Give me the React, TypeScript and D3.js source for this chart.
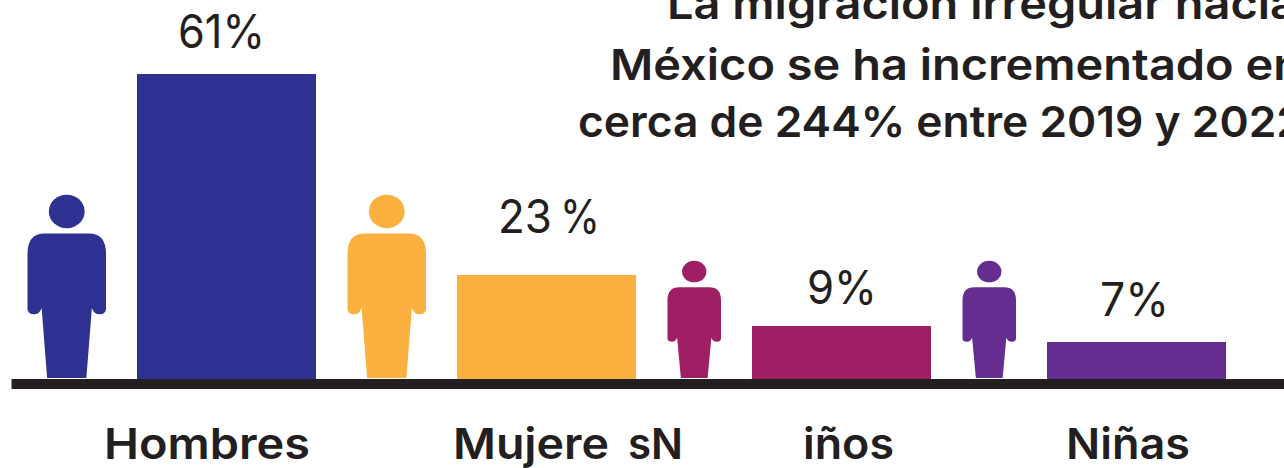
import React from "react";
import * as d3 from "d3";

const categories = ["Hombres", "Mujeres", "Niños", "Niñas"];
const valueLabels = ["61%", "23 %", "9%", "7%"];
const drawnHeights = [61, 20.8, 10.6, 7.4];
const barStarts = [137, 457, 752, 1047];
const colors = ["#2e3192", "#fbb040", "#9e1f63", "#662d91"];
const titleLines = ["La migración irregular hacia", "México se ha incrementado en", "cerca de 244% entre 2019 y 2022"];

const FONT = "Inter, 'Noto Sans', sans-serif";
const INK = "#231f20";

const y = d3.scaleLinear().domain([0, 61]).range([379, 74]);
const barX = d3.scaleOrdinal<string, number>().domain(categories).range(barStarts);
const color = d3.scaleOrdinal<string, string>().domain(categories).range(colors);

const people = [
  { x: 27.5, w: 78.5, top: 195, shoulder: 0.21, hand: 0.652 },
  { x: 347.5, w: 78.5, top: 195, shoulder: 0.21, hand: 0.652 },
  { x: 667.5, w: 53.5, top: 261, shoulder: 0.225, hand: 0.69 },
  { x: 962.5, w: 53.5, top: 261, shoulder: 0.225, hand: 0.69 },
];

function Person({ x, w, top, fill, shoulder, hand }: { x: number; w: number; top: number; fill: string; shoulder: number; hand: number }) {
  const bottom = 378;
  const sx = d3.scaleLinear().domain([0, 1]).range([x, x + w]);
  const sy = d3.scaleLinear().domain([0, 1]).range([top, bottom]);
  const p = d3.path();
  p.moveTo(sx(0.22), sy(shoulder));
  p.lineTo(sx(0.78), sy(shoulder));
  p.quadraticCurveTo(sx(1), sy(shoulder), sx(1), sy(shoulder + 0.11));
  p.lineTo(sx(1), sy(hand - 0.03));
  p.quadraticCurveTo(sx(1), sy(hand), sx(0.915), sy(hand));
  p.quadraticCurveTo(sx(0.85), sy(hand), sx(0.82), sy(hand - 0.035));
  p.lineTo(sx(0.75), sy(1));
  p.lineTo(sx(0.25), sy(1));
  p.lineTo(sx(0.18), sy(hand - 0.035));
  p.quadraticCurveTo(sx(0.15), sy(hand), sx(0.085), sy(hand));
  p.quadraticCurveTo(sx(0), sy(hand), sx(0), sy(hand - 0.03));
  p.lineTo(sx(0), sy(shoulder + 0.11));
  p.quadraticCurveTo(sx(0), sy(shoulder), sx(0.22), sy(shoulder));
  p.closePath();
  return (
    <g fill={fill}>
      <ellipse cx={sx(0.5)} cy={sy(0.09)} rx={w * 0.228} ry={(bottom - top) * 0.092} />
      <path d={p.toString()} />
    </g>
  );
}

const titlePos = [
  { x: 667, y: 19, len: 630 },
  { x: 610, y: 80, len: 692 },
  { x: 578, y: 137, len: 726 },
];
const labelPos = [
  { t: valueLabels[0], x: 178, y: 48, len: 87 },
  { t: "23", x: 498, y: 233, len: 54 },
  { t: "%", x: 560, y: 233, len: 40 },
  { t: valueLabels[2], x: 807, y: 304, len: 70 },
  { t: valueLabels[3], x: 1100, y: 316, len: 69 },
];
const catPos = [
  { t: categories[0], x: 104, len: 206 },
  { t: "Mujere", x: 453, len: 156 },
  { t: "sN", x: 628, len: 55 },
  { t: "iños", x: 803, len: 91 },
  { t: categories[3], x: 1066, len: 124 },
];

export default function App() {
  return (
    <svg
      width={1284}
      height={468}
      viewBox="0 0 1284 468"
      style={{ position: "fixed", left: 0, top: 0, background: "#fff" }}
    >
      {categories.map((c, i) => (
        <rect key={c} x={barX(c)} y={y(drawnHeights[i])} width={179} height={y(0) - y(drawnHeights[i])} fill={color(c)} />
      ))}
      {people.map((p, i) => (
        <Person key={i} {...p} fill={colors[i]} />
      ))}
      <rect x={11.5} y={379} width={1272.5} height={10} fill={INK} />
      {titleLines.map((t, i) => (
        <text key={i} x={titlePos[i].x} y={titlePos[i].y} fontFamily={FONT} fontWeight={600} fontSize={43} fill={INK}
          textLength={titlePos[i].len} lengthAdjust="spacingAndGlyphs">{t}</text>
      ))}
      {labelPos.map((l, i) => (
        <text key={i} x={l.x} y={l.y} fontFamily={FONT} fontWeight={400} fontSize={47} fill={INK}
          textLength={l.len} lengthAdjust="spacingAndGlyphs">{l.t}</text>
      ))}
      {catPos.map((l, i) => (
        <text key={i} x={l.x} y={459} fontFamily={FONT} fontWeight={600} fontSize={43} fill={INK}
          textLength={l.len} lengthAdjust="spacingAndGlyphs">{l.t}</text>
      ))}
    </svg>
  );
}
